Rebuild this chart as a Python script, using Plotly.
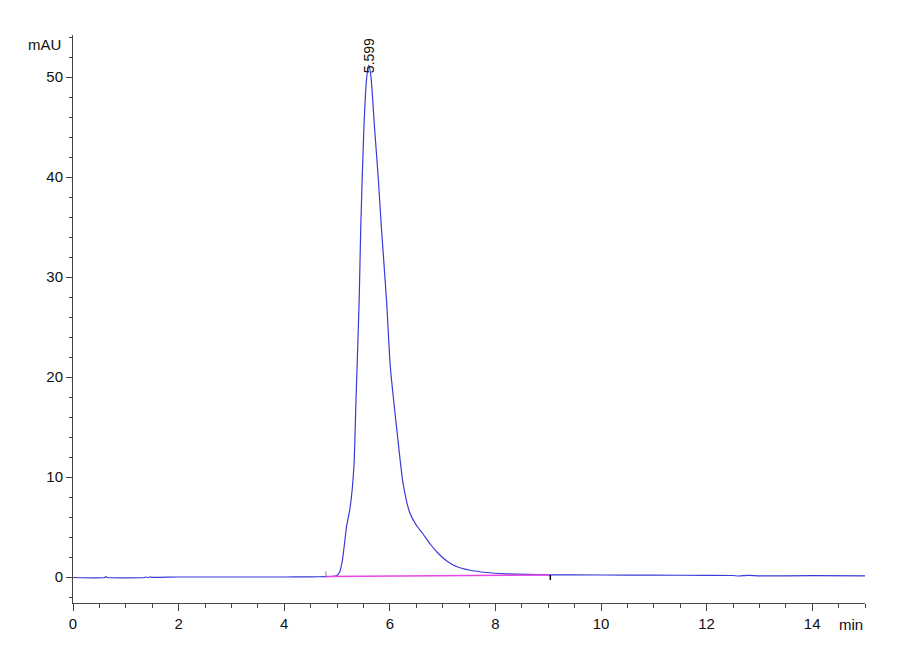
import plotly.graph_objects as go

# Chromatogram trace (time in min, signal in mAU)
time_min = [0, 0.6, 0.62, 0.65, 1.35, 1.38, 1.42, 1.46, 1.5, 2, 3, 4, 4.5, 4.8, 4.9,
            4.99, 5.05, 5.1, 5.13, 5.18, 5.25, 5.32, 5.36, 5.42, 5.45, 5.51, 5.56,
            5.599, 5.64, 5.71, 5.78, 5.84, 5.94, 6.01, 6.14, 6.25, 6.38, 6.5, 6.63,
            6.78, 6.91, 7.08, 7.26, 7.5, 7.83, 8.2, 8.6, 9.0, 10, 11, 12, 12.5, 12.6,
            12.8, 13, 14, 15]
signal_mau = [-0.05, -0.05, 0.03, -0.05, -0.05, 0.0, -0.05, 0.0, -0.03, 0.0, 0.0, 0.0,
              0.02, 0.03, 0.05, 0.12, 0.5, 1.6, 2.8, 5.0, 7.0, 11.0, 17.7, 27.7, 35.0,
              45.0, 49.8, 51.2, 50.2, 45.0, 40.0, 35.0, 27.5, 21.0, 14.4, 9.4, 6.4, 5.2,
              4.3, 3.2, 2.4, 1.6, 1.05, 0.7, 0.45, 0.32, 0.26, 0.22, 0.2, 0.18, 0.17,
              0.15, 0.1, 0.16, 0.12, 0.13, 0.12]

# Integration baseline
baseline_time = [4.79, 9.04]
baseline_value = [0.05, 0.2]

# Peak label
peak_times = [5.599]
peak_heights = [51.2]

x_ticks = [0, 2, 4, 6, 8, 10, 12, 14]
y_ticks = [0, 10, 20, 30, 40, 50]

FONT = "Liberation Sans Narrow, Arial Narrow, Liberation Sans, Arial, sans-serif"
AXIS_COLOR = "#444444"

fig = go.Figure()
fig.add_trace(go.Scatter(x=time_min, y=signal_mau, mode="lines",
                         line=dict(color="#3a3ad8", width=1.2, shape="spline",
                                   smoothing=0.6),
                         showlegend=False, hoverinfo="skip"))
fig.add_trace(go.Scatter(x=baseline_time, y=baseline_value, mode="lines",
                         line=dict(color="#e645e6", width=1.6), showlegend=False,
                         hoverinfo="skip"))

# baseline start/end tick marks
fig.add_shape(type="line", xref="x", yref="y", ysizemode="pixel",
              yanchor=baseline_value[0], x0=baseline_time[0], x1=baseline_time[0],
              y0=0, y1=5, line=dict(color="#888888", width=1))
fig.add_shape(type="line", xref="x", yref="y", ysizemode="pixel",
              yanchor=baseline_value[1], x0=baseline_time[1], x1=baseline_time[1],
              y0=0, y1=-5, line=dict(color="#000000", width=1.5))

for pt, ph in zip(peak_times, peak_heights):
    fig.add_annotation(x=pt, y=ph, text=f"{pt:.3f}", showarrow=False,
                       textangle=-90, xanchor="center", yanchor="bottom", yshift=-10,
                       font=dict(family=FONT, size=14, color="#111111"))

fig.add_annotation(xref="paper", yref="paper", x=0, y=1, text="mAU", showarrow=False,
                   xanchor="right", yanchor="middle", xshift=-10, yshift=-9,
                   font=dict(family=FONT, size=15, color="#111111"))
fig.add_annotation(xref="paper", yref="paper", x=1, y=0, text="min", showarrow=False,
                   xanchor="right", yanchor="middle", yshift=-21,
                   font=dict(family=FONT, size=15, color="#111111"))

fig.update_layout(
    width=900, height=660,
    margin=dict(l=65, r=43, t=27, b=65),
    paper_bgcolor="white", plot_bgcolor="white",
    font=dict(family=FONT, size=15, color="#111111"),
    xaxis=dict(range=[0, 15], tickvals=x_ticks, showgrid=False, zeroline=False,
               showline=True, linecolor=AXIS_COLOR, linewidth=1,
               ticks="outside", ticklen=7, tickcolor=AXIS_COLOR, tickwidth=1,
               minor=dict(dtick=0.5, ticks="outside", ticklen=4, tickcolor=AXIS_COLOR,
                          showgrid=False)),
    yaxis=dict(range=[-2.6, 54.2], tickvals=y_ticks, showgrid=False, zeroline=False,
               showline=True, linecolor=AXIS_COLOR, linewidth=1,
               ticks="outside", ticklen=6, tickcolor=AXIS_COLOR, tickwidth=1,
               minor=dict(dtick=2, tick0=0, ticks="outside", ticklen=3,
                          tickcolor=AXIS_COLOR, showgrid=False)),
)

fig.write_html("out.html")
